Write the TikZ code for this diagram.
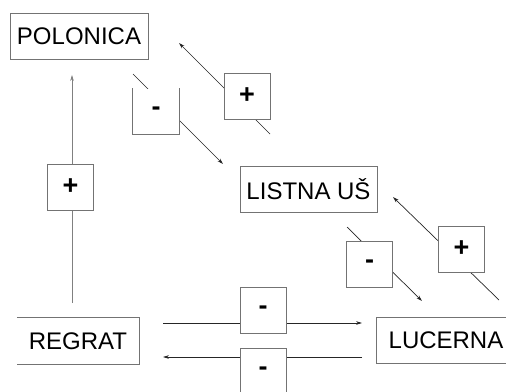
\documentclass[tikz,border=0pt]{standalone}
\usepackage{fontspec}
\setmainfont{Liberation Sans}
\usetikzlibrary{arrows.meta}
\tikzset{
  edgecol/.style={draw=black!55, line width=0.8pt},
  labelbox/.style={minimum width=138pt, minimum height=46pt, inner sep=0pt,
    font=\fontsize{24}{28}\selectfont},
  signbox/.style={minimum width=46pt, minimum height=46pt, inner sep=0pt,
    fill=white, font=\fontsize{27}{30}\selectfont\bfseries},
  link/.style={draw=black!85, line width=0.7pt},
  arrowlink/.style={link, -{Stealth[length=6pt,width=3.6pt]}},
}
\begin{document}
\begin{tikzpicture}[x=1pt,y=-1pt]
\useasboundingbox (0,0) rectangle (506,391);
\clip (0,0) rectangle (506,391);

% species
\node[labelbox, edgecol, draw] (pol) at (79,36) {POLONICA};
\node[labelbox, edgecol, draw, minimum width=137pt] (lis) at (308.5,189) {LISTNA UŠ};
\node[labelbox, minimum width=122pt] (reg) at (78,341) {REGRAT};
\node[labelbox] (luc) at (446,340.5) {LUCERNA};
\draw[edgecol] (reg.north west) -- (reg.north east) -- (reg.south east) -- (reg.south west);
\draw[edgecol] (luc.north east) -- (luc.north west) -- (luc.south west) -- (luc.south east);

% free ends of the interactions
\coordinate (v0) at (72,303);   \coordinate (v1) at (72,75);
\coordinate (a0) at (133,74);   \coordinate (a1) at (223,164);
\coordinate (b0) at (270,134);  \coordinate (b1) at (179,43);
\coordinate (c0) at (347,227);  \coordinate (c1) at (422,301);
\coordinate (d0) at (499,300);  \coordinate (d1) at (393,197);
\coordinate (e0) at (163,323);  \coordinate (e1) at (362,323);
\coordinate (f0) at (362,357);  \coordinate (f1) at (163,357);

\draw[arrowlink, draw=black!50] (v0) -- (v1);
\draw[arrowlink] (a0) -- (a1);
\draw[arrowlink] (b0) -- (b1);
\draw[arrowlink] (c0) -- (c1);
\draw[arrowlink] (d0) -- (d1);
\draw[arrowlink] (e0) -- (e1);
\draw[arrowlink] (f0) -- (f1);

% signs of the interactions
\node[signbox, edgecol, draw] (p1) at (70.5,187) {+};
\node[signbox] (m1) at (156,111.5) {-};
\draw[edgecol] (m1.north west) -- (m1.south west) -- (m1.south east) -- (m1.north east);
\node[signbox, edgecol, draw] (p2) at (247,96) {+};
\node[signbox, edgecol, draw] (m2) at (369.5,264) {-};
\node[signbox, edgecol, draw] (p3) at (461.5,249) {+};
\node[signbox, edgecol, draw] (m3) at (263,310) {-};
\node[signbox, edgecol, draw] (m4) at (263,371) {-};
\end{tikzpicture}
\end{document}
